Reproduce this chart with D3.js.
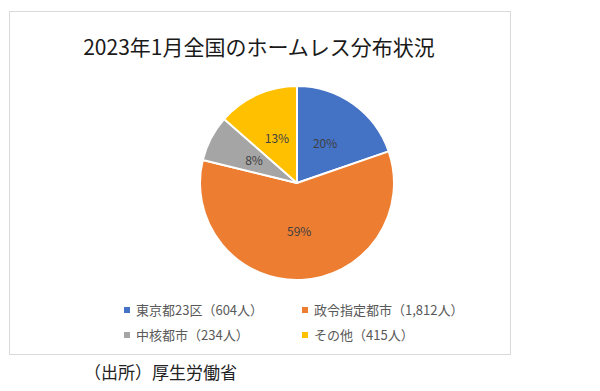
<!DOCTYPE html>
<html><head><meta charset="utf-8">
<script src="https://cdn.jsdelivr.net/npm/d3@7"></script>
<style>body{margin:0;background:#fff;} svg{display:block;}</style>
</head><body>
<svg id="c" width="600" height="391"></svg>
<script>
const categories = ["東京都23区", "政令指定都市", "中核都市", "その他"];
const values = [604, 1812, 234, 415];
const pctLabels = ["20%", "59%", "8%", "13%"];
const colors = ["#4472C4", "#ED7D31", "#A5A5A5", "#FFC000"];
const title = "2023年1月全国のホームレス分布状況";
const source = "（出所）厚生労働省";
const font = "'Noto Sans CJK JP', 'Noto Sans', sans-serif";

const svg = d3.select("#c");
svg.append("rect").attr("x", 9.5).attr("y", 11.5).attr("width", 501).attr("height", 343)
  .attr("fill", "#fff").attr("stroke", "#d9d9d9").attr("stroke-width", 1);

svg.append("text").attr("x", 259).attr("y", 55).attr("text-anchor", "middle")
  .attr("font-family", font).attr("font-size", 21).attr("fill", "#1a1a1a").text(title);

const cx = 297, cy = 183, r = 97;
const pie = d3.pie().sort(null).value(d => d)(values);
const arc = d3.arc().innerRadius(0).outerRadius(r);
const labelArc = d3.arc().innerRadius(r * 0.5).outerRadius(r * 0.5);
const g = svg.append("g").attr("transform", `translate(${cx},${cy})`);
g.selectAll("path").data(pie).join("path")
  .attr("d", arc).attr("fill", (d, i) => colors[i])
  .attr("stroke", "#fff").attr("stroke-width", 2).attr("stroke-linejoin", "round");
g.selectAll("text").data(pie).join("text")
  .attr("transform", d => `translate(${labelArc.centroid(d)})`)
  .attr("text-anchor", "middle").attr("dy", "0.35em")
  .attr("font-family", font).attr("font-size", 12).attr("fill", "#404040")
  .text((d, i) => pctLabels[i]);

const legPos = [[127, 310], [305, 310], [127, 335], [305, 335]];
const fmt = d3.format(",");
const leg = svg.append("g");
categories.forEach((c, i) => {
  const [x, y] = legPos[i];
  leg.append("rect").attr("x", x - 3).attr("y", y - 3).attr("width", 6).attr("height", 6).attr("fill", colors[i]);
  leg.append("text").attr("x", x + 9).attr("y", y).attr("dy", "0.35em")
    .attr("font-family", font).attr("font-size", 13).attr("fill", "#595959")
    .text(`${c}（${fmt(values[i])}人）`);
});

svg.append("text").attr("x", 84).attr("y", 379)
  .attr("font-family", font).attr("font-size", 17).attr("fill", "#222").text(source);
</script>
</body></html>
